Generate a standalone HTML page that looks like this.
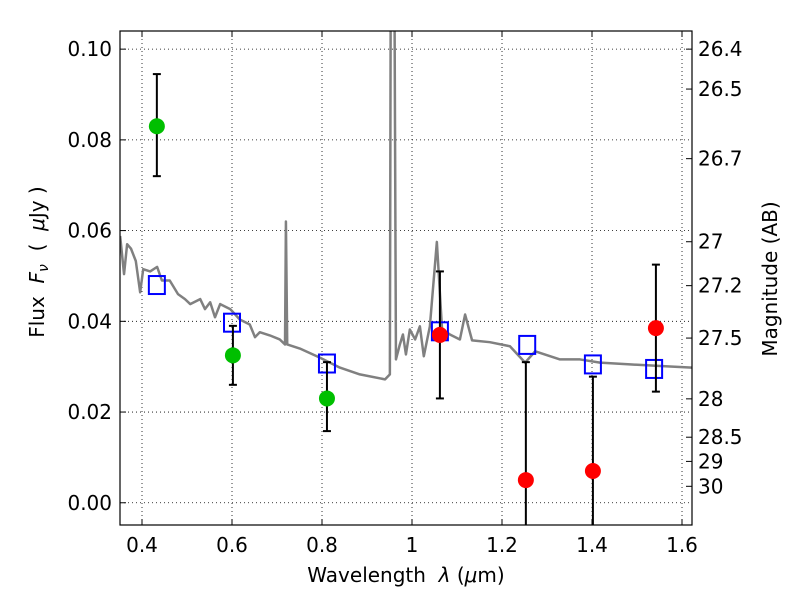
<!DOCTYPE html>
<html><head><meta charset="utf-8"><style>
body{margin:0;background:#fff}
svg text{font-family:"DejaVu Sans","Liberation Sans",sans-serif;fill:#000;white-space:pre}
</style></head><body>
<svg id="c" width="800" height="600"></svg>
<script>
const specLam=[0.3514,0.3601,0.3669,0.3756,0.3862,0.3959,0.4027,0.4181,0.4336,0.4442,0.4616,0.48,0.4955,0.5071,0.5293,0.5399,0.5515,0.5622,0.5737,0.596,0.6173,0.6395,0.6511,0.6617,0.684,0.7062,0.7178,0.7198,0.7227,0.7507,0.7952,0.8396,0.8841,0.9401,0.9508,0.9546,0.9575,0.9643,0.973,0.9798,0.9865,0.9952,1.0069,1.0175,1.0262,1.0397,1.0552,1.0668,1.0842,1.1064,1.118,1.1335,1.1731,1.2176,1.2514,1.2737,1.3288,1.3733,1.4177,1.4844,1.5627,1.622];
const specFlux=[0.0588,0.0504,0.057,0.056,0.0533,0.0464,0.0515,0.051,0.052,0.049,0.049,0.046,0.0449,0.0438,0.0449,0.0427,0.0442,0.0409,0.0438,0.0427,0.0404,0.0393,0.0365,0.0376,0.0369,0.036,0.0349,0.062,0.0349,0.034,0.032,0.0298,0.0283,0.0272,0.0283,0.2,0.2,0.0316,0.0349,0.0371,0.0327,0.0382,0.036,0.0389,0.0323,0.0389,0.0575,0.0382,0.0371,0.036,0.0415,0.0358,0.0354,0.0345,0.0309,0.0334,0.0316,0.0316,0.0309,0.0305,0.0301,0.0298];
const greenLam=[0.433,0.602,0.811];
const greenFlux=[0.083,0.0325,0.023];
const greenLo=[0.072,0.026,0.0158];
const greenHi=[0.0945,0.039,0.031];
const redLam=[1.062,1.253,1.402,1.542];
const redFlux=[0.037,0.005,0.007,0.0385];
const redLo=[0.023,-0.01,-0.01,0.0245];
const redHi=[0.051,0.031,0.0278,0.0525];
const boxLam=[0.433,0.6,0.811,1.062,1.256,1.402,1.538];
const boxFlux=[0.048,0.0397,0.0307,0.0378,0.0348,0.0305,0.0295];
const xTicks=[0.4,0.6,0.8,1.0,1.2,1.4,1.6];
const xTickLabels=["0.4","0.6","0.8","1","1.2","1.4","1.6"];
const yTicks=[0,0.02,0.04,0.06,0.08,0.10];
const yTickLabels=["0.00","0.02","0.04","0.06","0.08","0.10"];
const magTicks=[26.4,26.5,26.7,27,27.2,27.5,28,28.5,29,30];

const L=120,R=692,T=31,B=525,X0=0.3511,X1=1.6222,Y0=-0.0049,Y1=0.104;
const sx=v=>L+(v-X0)/(X1-X0)*(R-L);
const sy=v=>B-(v-Y0)/(Y1-Y0)*(B-T);
const svg=document.getElementById('c');
const NS='http://www.w3.org/2000/svg';
function mk(tag,a,parent){const e=document.createElementNS(NS,tag);for(const k in a)e.setAttribute(k,a[k]);(parent||svg).appendChild(e);return e;}
const defs=mk('defs',{});const cp=mk('clipPath',{id:'cp'},defs);mk('rect',{x:L,y:T,width:R-L,height:B-T},cp);
xTicks.forEach((t,i)=>{const x=sx(t);
 let g=mk('line',{x1:x,x2:x,y1:T,y2:B,stroke:'#000','stroke-dasharray':'1,3','stroke-width':0.8});
 
 mk('line',{x1:x,x2:x,y1:B,y2:B-6,stroke:'#000'});mk('line',{x1:x,x2:x,y1:T,y2:T+6,stroke:'#000'});
 let tx=mk('text',{x:x,y:B+27,'text-anchor':'middle','font-size':20});tx.textContent=xTickLabels[i];
 });
yTicks.forEach((t,i)=>{const y=sy(t);
 let g=mk('line',{x1:L,x2:R,y1:y,y2:y,stroke:'#000','stroke-dasharray':'1,3','stroke-width':0.8});
 
 mk('line',{x1:L,x2:L+6,y1:y,y2:y,stroke:'#000'});
 let tx=mk('text',{x:L-8,y:y+7,'text-anchor':'end','font-size':20});tx.textContent=yTickLabels[i];
 });
magTicks.forEach(m=>{const f=Math.pow(10,(23.9-m)/2.5);const y=sy(f);
 mk('line',{x1:R,x2:R-6,y1:y,y2:y,stroke:'#000'});
 let tx=mk('text',{x:R+6,y:y+7,'font-size':20});tx.textContent=String(m);
 });
const g=mk('g',{'clip-path':'url(#cp)'});
let sp=mk('polyline',{points:specLam.map((l,i)=>sx(l)+','+sy(specFlux[i])).join(' '),fill:'none',stroke:'#808080','stroke-width':2.5,'stroke-linejoin':'round'},g);

boxLam.forEach((l,i)=>{let r=mk('rect',{x:sx(l)-8,y:sy(boxFlux[i])-9,width:16,height:18,fill:'none',stroke:'#0000ff','stroke-width':2},g);
 });
function pts(lam,fl,lo,hi,col,name){lam.forEach((l,i)=>{const x=sx(l);
 mk('line',{x1:x,x2:x,y1:sy(lo[i]),y2:sy(hi[i]),stroke:'#000','stroke-width':2},g);
 [lo[i],hi[i]].forEach(v=>mk('line',{x1:x-4,x2:x+4,y1:sy(v),y2:sy(v),stroke:'#000','stroke-width':2},g));
 let c=mk('circle',{cx:x,cy:sy(fl[i]),r:8,fill:col},g);
 });}
pts(greenLam,greenFlux,greenLo,greenHi,'#00bf00','detection-point');
pts(redLam,redFlux,redLo,redHi,'#ff0000','upper-limit-point');
let fr=mk('rect',{x:L,y:T,width:R-L,height:B-T,fill:'none',stroke:'#000','stroke-width':1.2});

let xt=mk('text',{x:406,y:582,'text-anchor':'middle','font-size':20});xt.innerHTML='Wavelength  <tspan font-style="italic">λ</tspan> (<tspan font-style="italic">μ</tspan>m)';

let yt=mk('text',{x:0,y:0,'text-anchor':'middle','font-size':20,transform:'translate(44,262) rotate(-90)'});yt.innerHTML='Flux  <tspan font-style="italic">F</tspan><tspan font-style="italic" font-size="14" dy="4">ν</tspan><tspan dy="-4">  (  </tspan><tspan font-style="italic">μ</tspan>Jy )';

let rt=mk('text',{x:0,y:0,'text-anchor':'middle','font-size':20,transform:'translate(777,279) rotate(-90)'});rt.textContent='Magnitude (AB)';

</script>
</body></html>
